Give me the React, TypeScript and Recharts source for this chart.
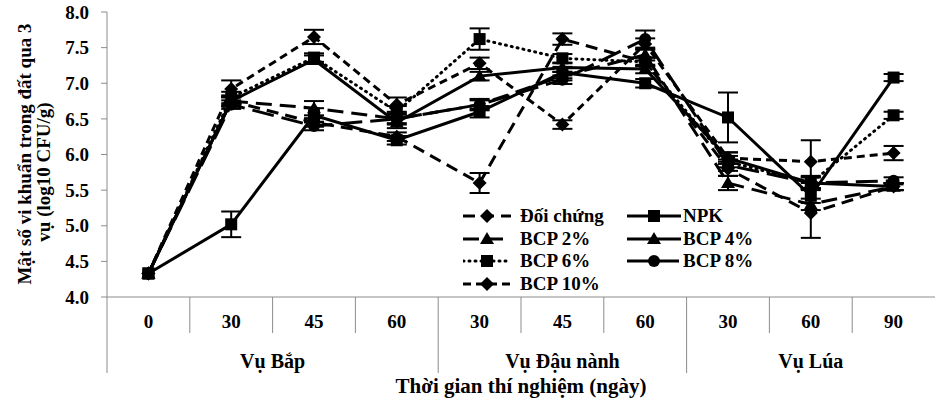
import React from 'react'
import { LineChart, Line, XAxis, YAxis, ErrorBar } from 'recharts'

const categories = ['0', '30', '45', '60', '30', '45', '60', '30', '60', '90']
const groupNames = ['Vụ Bắp', 'Vụ Đậu nành', 'Vụ Lúa']
const groupSizes = [4, 3, 3]
const yTicks = [4.0, 4.5, 5.0, 5.5, 6.0, 6.5, 7.0, 7.5, 8.0]

const doiChung = [4.33, 6.75, 6.45, 6.25, 5.6, 7.62, 7.3, 5.8, 5.18, 5.55]
const npk = [4.33, 5.02, 6.55, 6.2, 6.6, 7.15, 7.0, 6.52, 5.42, 7.08]
const bcp2 = [4.33, 6.75, 6.65, 6.5, 6.7, 7.1, 7.4, 5.6, 5.3, 5.55]
const bcp4 = [4.33, 6.75, 7.33, 6.45, 7.1, 7.22, 7.2, 5.95, 5.6, 5.55]
const bcp6 = [4.33, 6.8, 7.36, 6.6, 7.62, 7.35, 7.3, 5.9, 5.6, 6.55]
const bcp8 = [4.33, 6.7, 6.4, 6.5, 6.7, 7.05, 7.62, 5.85, 5.6, 5.63]
const bcp10 = [4.33, 6.92, 7.65, 6.7, 7.28, 6.42, 7.55, 5.95, 5.9, 6.02]

const errDoiChung = [0, 0.08, 0.06, 0.06, 0.14, 0.08, 0.06, 0.1, 0.35, 0.05]
const errNpk = [0, 0.18, 0.1, 0.06, 0.08, 0.08, 0.06, 0.35, 0.1, 0.05]
const errBcp2 = [0, 0.06, 0.1, 0.06, 0.08, 0.06, 0.08, 0.1, 0.08, 0.05]
const errBcp4 = [0, 0.06, 0.06, 0.08, 0.06, 0.06, 0.06, 0.08, 0.08, 0.05]
const errBcp6 = [0, 0.08, 0.06, 0.08, 0.15, 0.06, 0.06, 0.08, 0.1, 0.05]
const errBcp8 = [0, 0.06, 0.06, 0.08, 0.06, 0.06, 0.12, 0.08, 0.08, 0.05]
const errBcp10 = [0, 0.12, 0.1, 0.1, 0.08, 0.06, 0.08, 0.08, 0.3, 0.1]

const series = [
  { key: 'doiChung', name: 'Đối chứng', values: doiChung, errors: errDoiChung, dash: '12 7', shape: 'diamond' },
  { key: 'npk', name: 'NPK', values: npk, errors: errNpk, dash: undefined, shape: 'square' },
  { key: 'bcp2', name: 'BCP 2%', values: bcp2, errors: errBcp2, dash: '16 8', shape: 'triangle' },
  { key: 'bcp4', name: 'BCP 4%', values: bcp4, errors: errBcp4, dash: undefined, shape: 'triangle' },
  { key: 'bcp6', name: 'BCP 6%', values: bcp6, errors: errBcp6, dash: '1 5', shape: 'square' },
  { key: 'bcp8', name: 'BCP 8%', values: bcp8, errors: errBcp8, dash: '22 8', shape: 'circle' },
  { key: 'bcp10', name: 'BCP 10%', values: bcp10, errors: errBcp10, dash: '8 5', shape: 'diamond' },
]

const data = categories.map((c, i) => {
  const row: Record<string, number | string> = { key: `c${i}` }
  series.forEach(s => {
    row[s.key] = s.values[i]
    row[`${s.key}Err`] = s.errors[i]
  })
  return row
})

const FONT = '"Liberation Serif", "Times New Roman", serif'
const AXIS = '#8c8c8c'
const PLOT_BOTTOM = 297
const BAND = (944 - 107 - 9) / categories.length

function Marker({ cx, cy, shape }: { cx?: number; cy?: number; shape: string }) {
  if (cx == null || cy == null) return null
  if (shape === 'diamond') return <polygon points={`${cx},${cy - 7} ${cx + 7},${cy} ${cx},${cy + 7} ${cx - 7},${cy}`} fill="#000" />
  if (shape === 'square') return <rect x={cx - 6} y={cy - 6} width={12} height={12} fill="#000" />
  if (shape === 'triangle') return <polygon points={`${cx},${cy - 7} ${cx + 7},${cy + 5} ${cx - 7},${cy + 5}`} fill="#000" />
  return <circle cx={cx} cy={cy} r={6} fill="#000" />
}

function CategoryTick(props: any) {
  const { x, payload } = props
  const i = payload.index
  const left = x - BAND / 2
  const right = x + BAND / 2
  let start = 0
  const lines: React.ReactNode[] = []
  let groupLabel: React.ReactNode = null
  groupSizes.forEach((n, g) => {
    if (i === start) {
      groupLabel = (
        <text x={left + (n * BAND) / 2} y={PLOT_BOTTOM + 71} textAnchor="middle" fontFamily={FONT} fontWeight="bold" fontSize={20} fill="#000">
          {groupNames[g]}
        </text>
      )
    }
    if (i === start + n - 1 && g < groupSizes.length - 1) {
      lines.push(<line key="g" x1={right} x2={right} y1={PLOT_BOTTOM} y2={PLOT_BOTTOM + 76} stroke={AXIS} />)
    }
    start += n
  })
  if (lines.length === 0 && i < categories.length - 1) {
    lines.push(<line key="s" x1={right} x2={right} y1={PLOT_BOTTOM} y2={PLOT_BOTTOM + 36} stroke={AXIS} />)
  }
  return (
    <g>
      {i === 0 && <line x1={left} x2={left} y1={PLOT_BOTTOM} y2={PLOT_BOTTOM + 76} stroke={AXIS} />}
      {lines}
      <text x={x} y={PLOT_BOTTOM + 31} textAnchor="middle" fontFamily={FONT} fontWeight="bold" fontSize={19} fill="#000">
        {categories[i]}
      </text>
      {groupLabel}
    </g>
  )
}

function YTitle() {
  return (
    <g fontFamily={FONT} fontWeight="bold" fontSize={19} fill="#000">
      <text transform="translate(31, 154) rotate(-90)" textAnchor="middle">Mật số vi khuẩn trong đất qua 3</text>
      <text transform="translate(50, 172) rotate(-90)" textAnchor="middle">vụ (log10 CFU/g)</text>
    </g>
  )
}

function LegendBox() {
  return (
    <>
      {series.map((s, i) => {
        const col = i % 2
        const row = Math.floor(i / 2)
        const x0 = col === 0 ? 463 : 627
        const w = col === 0 ? 48 : 54
        const textX = col === 0 ? 520 : 683
        const cy = 216 + row * 22.5
        return (
          <React.Fragment key={s.key}>
            <svg style={{ position: 'absolute', left: x0, top: cy - 10 }} width={w} height={20}>
              <line x1={0} x2={w} y1={10} y2={10} stroke="#000" strokeWidth={3} strokeDasharray={s.dash} strokeLinecap={s.key === 'bcp6' ? 'round' : 'butt'} />
              <Marker cx={w / 2} cy={10} shape={s.shape} />
            </svg>
            <div style={{ position: 'absolute', left: textX, top: cy - 12, fontFamily: FONT, fontWeight: 'bold', fontSize: 19, lineHeight: '24px', whiteSpace: 'nowrap' }}>
              {s.name}
            </div>
          </React.Fragment>
        )
      })}
    </>
  )
}

export default function App() {
  return (
    <div style={{ position: 'absolute', left: 0, top: 0, width: 944, height: 398, background: '#fff' }}>
      <LineChart width={944} height={398} data={data} margin={{ top: 12, right: 9, left: 0, bottom: 0 }}>
        <XAxis
          dataKey="key"
          scale="band"
          height={101}
          stroke={AXIS}
          tickLine={false}
          interval={0}
          tick={<CategoryTick />}
          label={{ value: 'Thời gian thí nghiệm (ngày)', position: 'insideBottom', offset: 5, fontFamily: FONT, fontWeight: 'bold', fontSize: 21, fill: '#000' }}
        />
        <YAxis
          width={107}
          domain={[4, 8]}
          ticks={yTicks}
          stroke={AXIS}
          tickSize={6}
          tickMargin={12}
          tickFormatter={(v: number) => v.toFixed(1)}
          tick={{ fontFamily: FONT, fontWeight: 'bold', fontSize: 19, fill: '#000' }}
          label={<YTitle />}
        />
        {series.map(s => (
          <Line
            key={s.key}
            dataKey={s.key}
            name={s.name}
            stroke="#000"
            strokeWidth={3}
            strokeDasharray={s.dash}
            strokeLinecap={s.key === 'bcp6' ? 'round' : 'butt'}
            isAnimationActive={false}
            dot={(p: any) => <Marker key={`${s.key}-${p.index}`} cx={p.cx} cy={p.cy} shape={s.shape} />}
            activeDot={false}
          >
            <ErrorBar dataKey={`${s.key}Err`} width={10} strokeWidth={2} stroke="#000" direction="y" />
          </Line>
        ))}
      </LineChart>
      <LegendBox />
    </div>
  )
}
